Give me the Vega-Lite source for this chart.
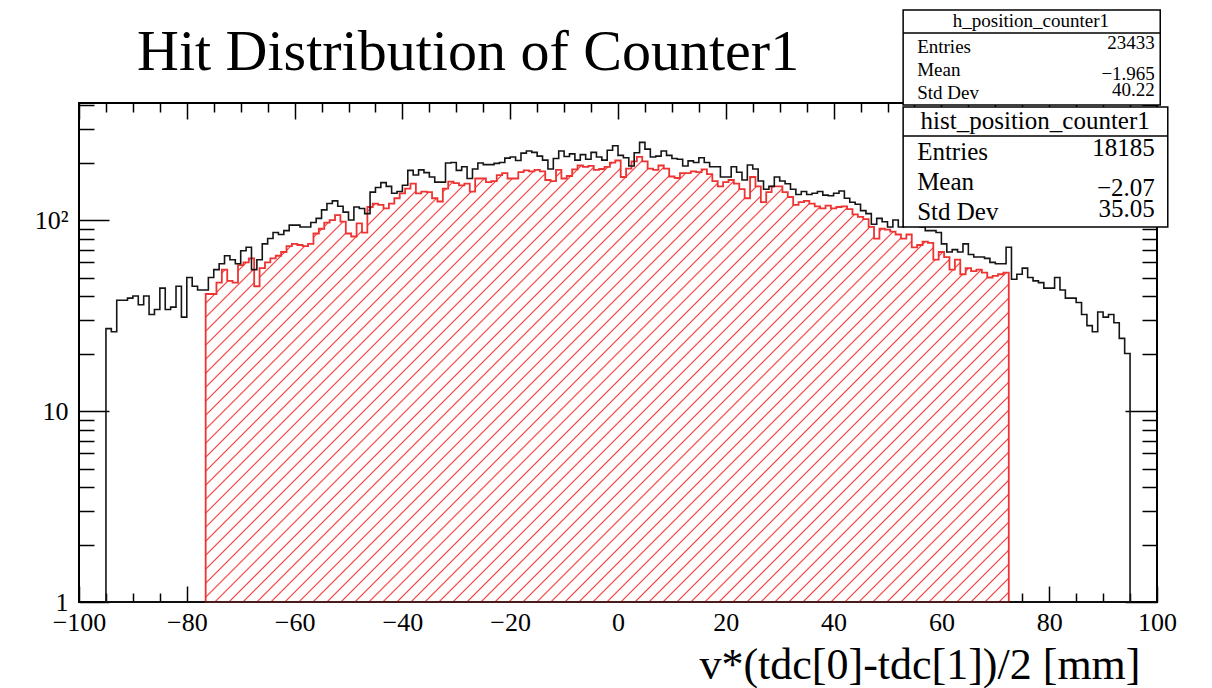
{
"$schema": "https://vega.github.io/schema/vega-lite/v6.json",
"width": 1078, "height": 499,
"autosize": {"type": "none"},
"padding": {"left": 79, "top": 103, "right": 55, "bottom": 86},
"background": "white",
"config": {"view": {"stroke": "black", "strokeWidth": 2}, "font": "Liberation Serif"},
"data": {"values": [{}]},
"datasets": {
"black": [{"x":-95,"n":27},{"x":-94,"n":26},{"x":-93,"n":38},{"x":-92,"n":38},{"x":-91,"n":39},{"x":-90,"n":40},{"x":-89,"n":36},{"x":-88,"n":40},{"x":-87,"n":32},{"x":-86,"n":34},{"x":-85,"n":44},{"x":-84,"n":34},{"x":-83,"n":35},{"x":-82,"n":45},{"x":-81,"n":31},{"x":-80,"n":50},{"x":-79,"n":45},{"x":-78,"n":43},{"x":-77,"n":43},{"x":-76,"n":50},{"x":-75,"n":55},{"x":-74,"n":59},{"x":-73,"n":65},{"x":-72,"n":62},{"x":-71,"n":59},{"x":-70,"n":69},{"x":-69,"n":72},{"x":-68,"n":55},{"x":-67,"n":62},{"x":-66,"n":75},{"x":-65,"n":80},{"x":-64,"n":86},{"x":-63,"n":84},{"x":-62,"n":88},{"x":-61,"n":94},{"x":-60,"n":94},{"x":-59,"n":92},{"x":-58,"n":92},{"x":-57,"n":97},{"x":-56,"n":102},{"x":-55,"n":113},{"x":-54,"n":122},{"x":-53,"n":126},{"x":-52,"n":118},{"x":-51,"n":110},{"x":-50,"n":100},{"x":-49,"n":117},{"x":-48,"n":115},{"x":-47,"n":108},{"x":-46,"n":140},{"x":-45,"n":148},{"x":-44,"n":157},{"x":-43,"n":150},{"x":-42,"n":138},{"x":-41,"n":141},{"x":-40,"n":152},{"x":-39,"n":182},{"x":-38,"n":172},{"x":-37,"n":183},{"x":-36,"n":177},{"x":-35,"n":168},{"x":-34,"n":158},{"x":-33,"n":158},{"x":-32,"n":199},{"x":-31,"n":200},{"x":-30,"n":182},{"x":-29,"n":190},{"x":-28,"n":165},{"x":-27,"n":185},{"x":-26,"n":199},{"x":-25,"n":195},{"x":-24,"n":195},{"x":-23,"n":198},{"x":-22,"n":200},{"x":-21,"n":211},{"x":-20,"n":214},{"x":-19,"n":205},{"x":-18,"n":224},{"x":-17,"n":230},{"x":-16,"n":226},{"x":-15,"n":216},{"x":-14,"n":206},{"x":-13,"n":185},{"x":-12,"n":210},{"x":-11,"n":230},{"x":-10,"n":215},{"x":-9,"n":222},{"x":-8,"n":206},{"x":-7,"n":220},{"x":-6,"n":208},{"x":-5,"n":226},{"x":-4,"n":214},{"x":-3,"n":206},{"x":-2,"n":232},{"x":-1,"n":245},{"x":0,"n":218},{"x":1,"n":212},{"x":2,"n":192},{"x":3,"n":225},{"x":4,"n":255},{"x":5,"n":235},{"x":6,"n":214},{"x":7,"n":216},{"x":8,"n":230},{"x":9,"n":218},{"x":10,"n":210},{"x":11,"n":208},{"x":12,"n":192},{"x":13,"n":204},{"x":14,"n":200},{"x":15,"n":212},{"x":16,"n":200},{"x":17,"n":190},{"x":18,"n":190},{"x":19,"n":168},{"x":20,"n":168},{"x":21,"n":190},{"x":22,"n":178},{"x":23,"n":162},{"x":24,"n":194},{"x":25,"n":185},{"x":26,"n":160},{"x":27,"n":145},{"x":28,"n":150},{"x":29,"n":168},{"x":30,"n":160},{"x":31,"n":155},{"x":32,"n":145},{"x":33,"n":136},{"x":34,"n":141},{"x":35,"n":136},{"x":36,"n":138},{"x":37,"n":141},{"x":38,"n":135},{"x":39,"n":134},{"x":40,"n":138},{"x":41,"n":142},{"x":42,"n":130},{"x":43,"n":124},{"x":44,"n":121},{"x":45,"n":112},{"x":46,"n":108},{"x":47,"n":95},{"x":48,"n":102},{"x":49,"n":98},{"x":50,"n":92},{"x":51,"n":100},{"x":52,"n":92},{"x":53,"n":100},{"x":54,"n":94},{"x":55,"n":96},{"x":56,"n":92},{"x":57,"n":88},{"x":58,"n":88},{"x":59,"n":86},{"x":60,"n":75},{"x":61,"n":68},{"x":62,"n":70},{"x":63,"n":68},{"x":64,"n":75},{"x":65,"n":66},{"x":66,"n":64},{"x":67,"n":64},{"x":68,"n":63},{"x":69,"n":60},{"x":70,"n":59},{"x":71,"n":59},{"x":72,"n":72},{"x":73,"n":49},{"x":74,"n":52},{"x":75,"n":56},{"x":76,"n":50},{"x":77,"n":48},{"x":78,"n":47},{"x":79,"n":44},{"x":80,"n":44},{"x":81,"n":50},{"x":82,"n":43},{"x":83,"n":39},{"x":84,"n":39},{"x":85,"n":37},{"x":86,"n":32},{"x":87,"n":28},{"x":88,"n":26},{"x":89,"n":33},{"x":90,"n":31},{"x":91,"n":32},{"x":92,"n":29},{"x":93,"n":24},{"x":94,"n":20},{"x":95,"n":20}],
"red": [{"x":-76.5,"n":41},{"x":-75.5,"n":41},{"x":-74.5,"n":47},{"x":-73.5,"n":55},{"x":-72.5,"n":48},{"x":-71.5,"n":47},{"x":-70.5,"n":58},{"x":-69.5,"n":60},{"x":-68.5,"n":63},{"x":-67.5,"n":45},{"x":-66.5,"n":56},{"x":-65.5,"n":60},{"x":-64.5,"n":63},{"x":-63.5,"n":65},{"x":-62.5,"n":68},{"x":-61.5,"n":73},{"x":-60.5,"n":75},{"x":-59.5,"n":74},{"x":-58.5,"n":73},{"x":-57.5,"n":75},{"x":-56.5,"n":85},{"x":-55.5,"n":90},{"x":-54.5,"n":97},{"x":-53.5,"n":100},{"x":-52.5,"n":106},{"x":-51.5,"n":98},{"x":-50.5,"n":85},{"x":-49.5,"n":82},{"x":-48.5,"n":96},{"x":-47.5,"n":86},{"x":-46.5,"n":117},{"x":-45.5,"n":122},{"x":-44.5,"n":120},{"x":-43.5,"n":115},{"x":-42.5,"n":122},{"x":-41.5,"n":130},{"x":-40.5,"n":138},{"x":-39.5,"n":146},{"x":-38.5,"n":155},{"x":-37.5,"n":138},{"x":-36.5,"n":141},{"x":-35.5,"n":140},{"x":-34.5,"n":130},{"x":-33.5,"n":125},{"x":-32.5,"n":146},{"x":-31.5,"n":159},{"x":-30.5,"n":156},{"x":-29.5,"n":152},{"x":-28.5,"n":155},{"x":-27.5,"n":141},{"x":-26.5,"n":165},{"x":-25.5,"n":165},{"x":-24.5,"n":158},{"x":-23.5,"n":160},{"x":-22.5,"n":172},{"x":-21.5,"n":176},{"x":-20.5,"n":165},{"x":-19.5,"n":165},{"x":-18.5,"n":178},{"x":-17.5,"n":182},{"x":-16.5,"n":180},{"x":-15.5,"n":183},{"x":-14.5,"n":180},{"x":-13.5,"n":162},{"x":-12.5,"n":160},{"x":-11.5,"n":183},{"x":-10.5,"n":165},{"x":-9.5,"n":170},{"x":-8.5,"n":184},{"x":-7.5,"n":193},{"x":-6.5,"n":190},{"x":-5.5,"n":192},{"x":-4.5,"n":183},{"x":-3.5,"n":185},{"x":-2.5,"n":190},{"x":-1.5,"n":200},{"x":-0.5,"n":205},{"x":0.5,"n":168},{"x":1.5,"n":186},{"x":2.5,"n":203},{"x":3.5,"n":214},{"x":4.5,"n":203},{"x":5.5,"n":186},{"x":6.5,"n":183},{"x":7.5,"n":193},{"x":8.5,"n":186},{"x":9.5,"n":169},{"x":10.5,"n":166},{"x":11.5,"n":176},{"x":12.5,"n":176},{"x":13.5,"n":180},{"x":14.5,"n":178},{"x":15.5,"n":184},{"x":16.5,"n":174},{"x":17.5,"n":160},{"x":18.5,"n":150},{"x":19.5,"n":158},{"x":20.5,"n":162},{"x":21.5,"n":155},{"x":22.5,"n":145},{"x":23.5,"n":130},{"x":24.5,"n":168},{"x":25.5,"n":150},{"x":26.5,"n":124},{"x":27.5,"n":140},{"x":28.5,"n":150},{"x":29.5,"n":150},{"x":30.5,"n":140},{"x":31.5,"n":132},{"x":32.5,"n":120},{"x":33.5,"n":124},{"x":34.5,"n":126},{"x":35.5,"n":122},{"x":36.5,"n":118},{"x":37.5,"n":115},{"x":38.5,"n":119},{"x":39.5,"n":115},{"x":40.5,"n":117},{"x":41.5,"n":118},{"x":42.5,"n":114},{"x":43.5,"n":107},{"x":44.5,"n":104},{"x":45.5,"n":101},{"x":46.5,"n":92},{"x":47.5,"n":80},{"x":48.5,"n":90},{"x":49.5,"n":89},{"x":50.5,"n":87},{"x":51.5,"n":84},{"x":52.5,"n":80},{"x":53.5,"n":84},{"x":54.5,"n":72},{"x":55.5,"n":74},{"x":56.5,"n":77},{"x":57.5,"n":76},{"x":58.5,"n":62},{"x":59.5,"n":68},{"x":60.5,"n":64},{"x":61.5,"n":55},{"x":62.5,"n":62},{"x":63.5,"n":52},{"x":64.5,"n":56},{"x":65.5,"n":54},{"x":66.5,"n":55},{"x":67.5,"n":53},{"x":68.5,"n":50},{"x":69.5,"n":51},{"x":70.5,"n":52},{"x":71.5,"n":53},{"x":72.5,"n":53}]
},
"layer": [
{"data": {"name": "red"},
 "mark": {"type": "area", "interpolate": "step-after", "stroke": "#ee3333", "strokeWidth": 1.8, "opacity": 1, "fillOpacity": 1,
  "fill": {"gradient": "linear", "x1": 0, "y1": 0, "x2": 1.18902, "y2": 0.65893, "stops": [
{"offset":0.0038,"color":"#fff"},{"offset":0.0050,"color":"#f03c3c"},{"offset":0.0062,"color":"#fff"},
{"offset":0.0150,"color":"#fff"},{"offset":0.0162,"color":"#f03c3c"},{"offset":0.0174,"color":"#fff"},
{"offset":0.0262,"color":"#fff"},{"offset":0.0274,"color":"#f03c3c"},{"offset":0.0286,"color":"#fff"},
{"offset":0.0375,"color":"#fff"},{"offset":0.0387,"color":"#f03c3c"},{"offset":0.0399,"color":"#fff"},
{"offset":0.0487,"color":"#fff"},{"offset":0.0499,"color":"#f03c3c"},{"offset":0.0511,"color":"#fff"},
{"offset":0.0599,"color":"#fff"},{"offset":0.0611,"color":"#f03c3c"},{"offset":0.0623,"color":"#fff"},
{"offset":0.0711,"color":"#fff"},{"offset":0.0723,"color":"#f03c3c"},{"offset":0.0735,"color":"#fff"},
{"offset":0.0823,"color":"#fff"},{"offset":0.0835,"color":"#f03c3c"},{"offset":0.0847,"color":"#fff"},
{"offset":0.0935,"color":"#fff"},{"offset":0.0947,"color":"#f03c3c"},{"offset":0.0959,"color":"#fff"},
{"offset":0.1048,"color":"#fff"},{"offset":0.1060,"color":"#f03c3c"},{"offset":0.1072,"color":"#fff"},
{"offset":0.1160,"color":"#fff"},{"offset":0.1172,"color":"#f03c3c"},{"offset":0.1184,"color":"#fff"},
{"offset":0.1272,"color":"#fff"},{"offset":0.1284,"color":"#f03c3c"},{"offset":0.1296,"color":"#fff"},
{"offset":0.1384,"color":"#fff"},{"offset":0.1396,"color":"#f03c3c"},{"offset":0.1408,"color":"#fff"},
{"offset":0.1496,"color":"#fff"},{"offset":0.1508,"color":"#f03c3c"},{"offset":0.1520,"color":"#fff"},
{"offset":0.1608,"color":"#fff"},{"offset":0.1620,"color":"#f03c3c"},{"offset":0.1632,"color":"#fff"},
{"offset":0.1721,"color":"#fff"},{"offset":0.1733,"color":"#f03c3c"},{"offset":0.1745,"color":"#fff"},
{"offset":0.1833,"color":"#fff"},{"offset":0.1845,"color":"#f03c3c"},{"offset":0.1857,"color":"#fff"},
{"offset":0.1945,"color":"#fff"},{"offset":0.1957,"color":"#f03c3c"},{"offset":0.1969,"color":"#fff"},
{"offset":0.2057,"color":"#fff"},{"offset":0.2069,"color":"#f03c3c"},{"offset":0.2081,"color":"#fff"},
{"offset":0.2169,"color":"#fff"},{"offset":0.2181,"color":"#f03c3c"},{"offset":0.2193,"color":"#fff"},
{"offset":0.2281,"color":"#fff"},{"offset":0.2293,"color":"#f03c3c"},{"offset":0.2305,"color":"#fff"},
{"offset":0.2394,"color":"#fff"},{"offset":0.2406,"color":"#f03c3c"},{"offset":0.2418,"color":"#fff"},
{"offset":0.2506,"color":"#fff"},{"offset":0.2518,"color":"#f03c3c"},{"offset":0.2530,"color":"#fff"},
{"offset":0.2618,"color":"#fff"},{"offset":0.2630,"color":"#f03c3c"},{"offset":0.2642,"color":"#fff"},
{"offset":0.2730,"color":"#fff"},{"offset":0.2742,"color":"#f03c3c"},{"offset":0.2754,"color":"#fff"},
{"offset":0.2842,"color":"#fff"},{"offset":0.2854,"color":"#f03c3c"},{"offset":0.2866,"color":"#fff"},
{"offset":0.2954,"color":"#fff"},{"offset":0.2966,"color":"#f03c3c"},{"offset":0.2978,"color":"#fff"},
{"offset":0.3067,"color":"#fff"},{"offset":0.3079,"color":"#f03c3c"},{"offset":0.3091,"color":"#fff"},
{"offset":0.3179,"color":"#fff"},{"offset":0.3191,"color":"#f03c3c"},{"offset":0.3203,"color":"#fff"},
{"offset":0.3291,"color":"#fff"},{"offset":0.3303,"color":"#f03c3c"},{"offset":0.3315,"color":"#fff"},
{"offset":0.3403,"color":"#fff"},{"offset":0.3415,"color":"#f03c3c"},{"offset":0.3427,"color":"#fff"},
{"offset":0.3515,"color":"#fff"},{"offset":0.3527,"color":"#f03c3c"},{"offset":0.3539,"color":"#fff"},
{"offset":0.3627,"color":"#fff"},{"offset":0.3639,"color":"#f03c3c"},{"offset":0.3651,"color":"#fff"},
{"offset":0.3740,"color":"#fff"},{"offset":0.3752,"color":"#f03c3c"},{"offset":0.3764,"color":"#fff"},
{"offset":0.3852,"color":"#fff"},{"offset":0.3864,"color":"#f03c3c"},{"offset":0.3876,"color":"#fff"},
{"offset":0.3964,"color":"#fff"},{"offset":0.3976,"color":"#f03c3c"},{"offset":0.3988,"color":"#fff"},
{"offset":0.4076,"color":"#fff"},{"offset":0.4088,"color":"#f03c3c"},{"offset":0.4100,"color":"#fff"},
{"offset":0.4188,"color":"#fff"},{"offset":0.4200,"color":"#f03c3c"},{"offset":0.4212,"color":"#fff"},
{"offset":0.4300,"color":"#fff"},{"offset":0.4312,"color":"#f03c3c"},{"offset":0.4324,"color":"#fff"},
{"offset":0.4413,"color":"#fff"},{"offset":0.4425,"color":"#f03c3c"},{"offset":0.4437,"color":"#fff"},
{"offset":0.4525,"color":"#fff"},{"offset":0.4537,"color":"#f03c3c"},{"offset":0.4549,"color":"#fff"},
{"offset":0.4637,"color":"#fff"},{"offset":0.4649,"color":"#f03c3c"},{"offset":0.4661,"color":"#fff"},
{"offset":0.4749,"color":"#fff"},{"offset":0.4761,"color":"#f03c3c"},{"offset":0.4773,"color":"#fff"},
{"offset":0.4861,"color":"#fff"},{"offset":0.4873,"color":"#f03c3c"},{"offset":0.4885,"color":"#fff"},
{"offset":0.4973,"color":"#fff"},{"offset":0.4985,"color":"#f03c3c"},{"offset":0.4997,"color":"#fff"},
{"offset":0.5086,"color":"#fff"},{"offset":0.5098,"color":"#f03c3c"},{"offset":0.5110,"color":"#fff"},
{"offset":0.5198,"color":"#fff"},{"offset":0.5210,"color":"#f03c3c"},{"offset":0.5222,"color":"#fff"},
{"offset":0.5310,"color":"#fff"},{"offset":0.5322,"color":"#f03c3c"},{"offset":0.5334,"color":"#fff"},
{"offset":0.5422,"color":"#fff"},{"offset":0.5434,"color":"#f03c3c"},{"offset":0.5446,"color":"#fff"},
{"offset":0.5534,"color":"#fff"},{"offset":0.5546,"color":"#f03c3c"},{"offset":0.5558,"color":"#fff"},
{"offset":0.5647,"color":"#fff"},{"offset":0.5659,"color":"#f03c3c"},{"offset":0.5671,"color":"#fff"},
{"offset":0.5759,"color":"#fff"},{"offset":0.5771,"color":"#f03c3c"},{"offset":0.5783,"color":"#fff"},
{"offset":0.5871,"color":"#fff"},{"offset":0.5883,"color":"#f03c3c"},{"offset":0.5895,"color":"#fff"},
{"offset":0.5983,"color":"#fff"},{"offset":0.5995,"color":"#f03c3c"},{"offset":0.6007,"color":"#fff"},
{"offset":0.6095,"color":"#fff"},{"offset":0.6107,"color":"#f03c3c"},{"offset":0.6119,"color":"#fff"},
{"offset":0.6207,"color":"#fff"},{"offset":0.6219,"color":"#f03c3c"},{"offset":0.6231,"color":"#fff"},
{"offset":0.6319,"color":"#fff"},{"offset":0.6331,"color":"#f03c3c"},{"offset":0.6343,"color":"#fff"},
{"offset":0.6432,"color":"#fff"},{"offset":0.6444,"color":"#f03c3c"},{"offset":0.6456,"color":"#fff"},
{"offset":0.6544,"color":"#fff"},{"offset":0.6556,"color":"#f03c3c"},{"offset":0.6568,"color":"#fff"},
{"offset":0.6656,"color":"#fff"},{"offset":0.6668,"color":"#f03c3c"},{"offset":0.6680,"color":"#fff"},
{"offset":0.6768,"color":"#fff"},{"offset":0.6780,"color":"#f03c3c"},{"offset":0.6792,"color":"#fff"},
{"offset":0.6880,"color":"#fff"},{"offset":0.6892,"color":"#f03c3c"},{"offset":0.6904,"color":"#fff"},
{"offset":0.6993,"color":"#fff"},{"offset":0.7005,"color":"#f03c3c"},{"offset":0.7017,"color":"#fff"},
{"offset":0.7105,"color":"#fff"},{"offset":0.7117,"color":"#f03c3c"},{"offset":0.7129,"color":"#fff"},
{"offset":0.7217,"color":"#fff"},{"offset":0.7229,"color":"#f03c3c"},{"offset":0.7241,"color":"#fff"},
{"offset":0.7329,"color":"#fff"},{"offset":0.7341,"color":"#f03c3c"},{"offset":0.7353,"color":"#fff"},
{"offset":0.7441,"color":"#fff"},{"offset":0.7453,"color":"#f03c3c"},{"offset":0.7465,"color":"#fff"},
{"offset":0.7553,"color":"#fff"},{"offset":0.7565,"color":"#f03c3c"},{"offset":0.7577,"color":"#fff"},
{"offset":0.7666,"color":"#fff"},{"offset":0.7678,"color":"#f03c3c"},{"offset":0.7690,"color":"#fff"},
{"offset":0.7778,"color":"#fff"},{"offset":0.7790,"color":"#f03c3c"},{"offset":0.7802,"color":"#fff"},
{"offset":0.7890,"color":"#fff"},{"offset":0.7902,"color":"#f03c3c"},{"offset":0.7914,"color":"#fff"},
{"offset":0.8002,"color":"#fff"},{"offset":0.8014,"color":"#f03c3c"},{"offset":0.8026,"color":"#fff"},
{"offset":0.8114,"color":"#fff"},{"offset":0.8126,"color":"#f03c3c"},{"offset":0.8138,"color":"#fff"},
{"offset":0.8226,"color":"#fff"},{"offset":0.8238,"color":"#f03c3c"},{"offset":0.8250,"color":"#fff"},
{"offset":0.8339,"color":"#fff"},{"offset":0.8351,"color":"#f03c3c"},{"offset":0.8363,"color":"#fff"},
{"offset":0.8451,"color":"#fff"},{"offset":0.8463,"color":"#f03c3c"},{"offset":0.8475,"color":"#fff"},
{"offset":0.8563,"color":"#fff"},{"offset":0.8575,"color":"#f03c3c"},{"offset":0.8587,"color":"#fff"},
{"offset":0.8675,"color":"#fff"},{"offset":0.8687,"color":"#f03c3c"},{"offset":0.8699,"color":"#fff"},
{"offset":0.8787,"color":"#fff"},{"offset":0.8799,"color":"#f03c3c"},{"offset":0.8811,"color":"#fff"},
{"offset":0.8899,"color":"#fff"},{"offset":0.8911,"color":"#f03c3c"},{"offset":0.8923,"color":"#fff"},
{"offset":0.9012,"color":"#fff"},{"offset":0.9024,"color":"#f03c3c"},{"offset":0.9036,"color":"#fff"},
{"offset":0.9124,"color":"#fff"},{"offset":0.9136,"color":"#f03c3c"},{"offset":0.9148,"color":"#fff"},
{"offset":0.9236,"color":"#fff"},{"offset":0.9248,"color":"#f03c3c"},{"offset":0.9260,"color":"#fff"},
{"offset":0.9348,"color":"#fff"},{"offset":0.9360,"color":"#f03c3c"},{"offset":0.9372,"color":"#fff"},
{"offset":0.9460,"color":"#fff"},{"offset":0.9472,"color":"#f03c3c"},{"offset":0.9484,"color":"#fff"},
{"offset":0.9572,"color":"#fff"},{"offset":0.9584,"color":"#f03c3c"},{"offset":0.9596,"color":"#fff"},
{"offset":0.9685,"color":"#fff"},{"offset":0.9697,"color":"#f03c3c"},{"offset":0.9709,"color":"#fff"},
{"offset":0.9797,"color":"#fff"},{"offset":0.9809,"color":"#f03c3c"},{"offset":0.9821,"color":"#fff"},
{"offset":0.9909,"color":"#fff"},{"offset":0.9921,"color":"#f03c3c"},{"offset":0.9933,"color":"#fff"}
  ]}},
 "encoding": {
  "x": {"field": "x", "type": "quantitative", "scale": {"domain": [-100, 100], "nice": false, "zero": false},
   "axis": {"orient": "top", "values": [-100,-95,-90,-85,-80,-75,-70,-65,-60,-55,-50,-45,-40,-35,-30,-25,-20,-15,-10,-5,0,5,10,15,20,25,30,35,40,45,50,55,60,65,70,75,80,85,90,95,100], "labels": false, "domain": false, "grid": false, "title": null, "tickColor": "black", "tickWidth": 1.5, "tickSize": {"condition": {"test": "datum.value % 20 === 0", "value": -16}, "value": -9}}},
  "y": {"field": "n", "type": "quantitative", "scale": {"type": "log", "domain": [1, 410], "nice": false},
   "axis": {"orient": "right", "values": [1,2,3,4,5,6,7,8,9,10,20,30,40,50,60,70,80,90,100,200,300,400], "labels": false, "domain": false, "grid": false, "title": null, "tickColor": "black", "tickWidth": 1.5, "tickSize": {"condition": {"test": "datum.value === 1 || datum.value === 10 || datum.value === 100", "value": -32}, "value": -15}}},
  "y2": {"datum": 1}
 }},
{"data": {"name": "black"},
 "mark": {"type": "area", "interpolate": "step-after", "stroke": "#151515", "strokeWidth": 1.6, "fill": "white", "fillOpacity": 0, "opacity": 1},
 "encoding": {
  "x": {"field": "x", "type": "quantitative", "scale": {"domain": [-100, 100], "nice": false, "zero": false},
   "axis": {"orient": "bottom", "values": [-100,-95,-90,-85,-80,-75,-70,-65,-60,-55,-50,-45,-40,-35,-30,-25,-20,-15,-10,-5,0,5,10,15,20,25,30,35,40,45,50,55,60,65,70,75,80,85,90,95,100], "labelExpr": "datum.value % 20 === 0 ? datum.label : ''", "labelFlush": false, "labelOverlap": false, "labelBound": false, "labelFont": "Liberation Serif", "labelFontSize": 26, "labelColor": "black", "labelPadding": 23, "domain": false, "grid": false, "tickColor": "black", "tickWidth": 1.5, "tickSize": {"condition": {"test": "datum.value % 20 === 0", "value": -16}, "value": -9},
    "title": "v*(tdc[0]-tdc[1])/2 [mm]", "titleFont": "Liberation Serif", "titleFontSize": 44, "titleFontWeight": "normal", "titleColor": "black", "titleAnchor": "end", "titleAlign": "right", "titleBaseline": "alphabetic", "titleX": 1061, "titleY": 76}},
  "y": {"field": "n", "type": "quantitative", "scale": {"type": "log", "domain": [1, 410], "nice": false},
   "axis": {"orient": "left", "values": [1,2,3,4,5,6,7,8,9,10,20,30,40,50,60,70,80,90,100,200,300,400], "labelExpr": "datum.value === 1 ? '1' : datum.value === 10 ? '10' : datum.value === 100 ? '10²' : ''", "labelFlush": false, "labelOverlap": false, "labelBound": false, "labelFont": "Liberation Serif", "labelFontSize": 26, "labelColor": "black", "labelPadding": 41, "domain": false, "grid": false, "title": null, "tickColor": "black", "tickWidth": 1.5, "tickSize": {"condition": {"test": "datum.value === 1 || datum.value === 10 || datum.value === 100", "value": -30}, "value": -15}}},
  "y2": {"datum": 1}
 }},
{"mark": {"type": "text", "text": "Hit Distribution of Counter1", "font": "Liberation Serif", "fontSize": 58, "align": "left", "baseline": "alphabetic", "color": "black"},
 "encoding": {"x": {"datum": -89.24, "type": "quantitative", "scale": {"domain": [-100, 100], "nice": false, "zero": false}, "axis": null}, "y": {"datum": 610.5, "type": "quantitative", "scale": {"type": "log", "domain": [1, 410], "nice": false}, "axis": null}}},
{"mark": {"type": "rect", "fill": "white", "stroke": "black", "strokeWidth": 1.5},
 "encoding": {"x": {"datum": 52.9, "type": "quantitative", "scale": {"domain": [-100, 100], "nice": false, "zero": false}, "axis": null}, "x2": {"datum": 100.6}, "y": {"datum": 1258.6, "type": "quantitative", "scale": {"type": "log", "domain": [1, 410], "nice": false}, "axis": null}, "y2": {"datum": 400.4}}},
{"mark": {"type": "rule", "stroke": "black", "strokeWidth": 1.5},
 "encoding": {"x": {"datum": 52.9, "type": "quantitative", "scale": {"domain": [-100, 100], "nice": false, "zero": false}, "axis": null}, "x2": {"datum": 100.6}, "y": {"datum": 953.7, "type": "quantitative", "scale": {"type": "log", "domain": [1, 410], "nice": false}, "axis": null}}},
{"mark": {"type": "text", "text": "h_position_counter1", "font": "Liberation Serif", "fontSize": 19, "align": "center", "baseline": "middle", "color": "black"},
 "encoding": {"x": {"datum": 76.6, "type": "quantitative", "scale": {"domain": [-100, 100], "nice": false, "zero": false}, "axis": null}, "y": {"datum": 1102, "type": "quantitative", "scale": {"type": "log", "domain": [1, 410], "nice": false}, "axis": null}}},
{"mark": {"type": "text", "text": ["Entries", "Mean", "Std Dev"], "lineHeight": 23, "font": "Liberation Serif", "fontSize": 19, "align": "left", "baseline": "middle", "color": "black"},
 "encoding": {"x": {"datum": 55.5, "type": "quantitative", "scale": {"domain": [-100, 100], "nice": false, "zero": false}, "axis": null}, "y": {"datum": 805.6, "type": "quantitative", "scale": {"type": "log", "domain": [1, 410], "nice": false}, "axis": null}}},
{"mark": {"type": "text", "text": "23433", "font": "Liberation Serif", "fontSize": 19, "align": "right", "baseline": "middle", "color": "black"},
 "encoding": {"x": {"datum": 99.6, "type": "quantitative", "scale": {"domain": [-100, 100], "nice": false, "zero": false}, "axis": null}, "y": {"datum": 845, "type": "quantitative", "scale": {"type": "log", "domain": [1, 410], "nice": false}, "axis": null}}},
{"mark": {"type": "text", "text": "−1.965", "font": "Liberation Serif", "fontSize": 19, "align": "right", "baseline": "middle", "color": "black"},
 "encoding": {"x": {"datum": 99.6, "type": "quantitative", "scale": {"domain": [-100, 100], "nice": false, "zero": false}, "axis": null}, "y": {"datum": 582, "type": "quantitative", "scale": {"type": "log", "domain": [1, 410], "nice": false}, "axis": null}}},
{"mark": {"type": "text", "text": "40.22", "font": "Liberation Serif", "fontSize": 19, "align": "right", "baseline": "middle", "color": "black"},
 "encoding": {"x": {"datum": 99.6, "type": "quantitative", "scale": {"domain": [-100, 100], "nice": false, "zero": false}, "axis": null}, "y": {"datum": 480, "type": "quantitative", "scale": {"type": "log", "domain": [1, 410], "nice": false}, "axis": null}}},
{"mark": {"type": "rect", "fill": "white", "stroke": "black", "strokeWidth": 1.5},
 "encoding": {"x": {"datum": 52.9, "type": "quantitative", "scale": {"domain": [-100, 100], "nice": false, "zero": false}, "axis": null}, "x2": {"datum": 102.0}, "y": {"datum": 390.8, "type": "quantitative", "scale": {"type": "log", "domain": [1, 410], "nice": false}, "axis": null}, "y2": {"datum": 91.95}}},
{"mark": {"type": "rule", "stroke": "black", "strokeWidth": 1.5},
 "encoding": {"x": {"datum": 52.9, "type": "quantitative", "scale": {"domain": [-100, 100], "nice": false, "zero": false}, "axis": null}, "x2": {"datum": 102.0}, "y": {"datum": 275.4, "type": "quantitative", "scale": {"type": "log", "domain": [1, 410], "nice": false}, "axis": null}}},
{"mark": {"type": "text", "text": "hist_position_counter1", "font": "Liberation Serif", "fontSize": 25, "align": "center", "baseline": "middle", "color": "black"},
 "encoding": {"x": {"datum": 77.4, "type": "quantitative", "scale": {"domain": [-100, 100], "nice": false, "zero": false}, "axis": null}, "y": {"datum": 330, "type": "quantitative", "scale": {"type": "log", "domain": [1, 410], "nice": false}, "axis": null}}},
{"mark": {"type": "text", "text": ["Entries", "Mean", "Std Dev"], "lineHeight": 30, "font": "Liberation Serif", "fontSize": 25, "align": "left", "baseline": "middle", "color": "black"},
 "encoding": {"x": {"datum": 55.5, "type": "quantitative", "scale": {"domain": [-100, 100], "nice": false, "zero": false}, "axis": null}, "y": {"datum": 227.2, "type": "quantitative", "scale": {"type": "log", "domain": [1, 410], "nice": false}, "axis": null}}},
{"mark": {"type": "text", "text": "18185", "font": "Liberation Serif", "fontSize": 25, "align": "right", "baseline": "middle", "color": "black"},
 "encoding": {"x": {"datum": 99.6, "type": "quantitative", "scale": {"domain": [-100, 100], "nice": false, "zero": false}, "axis": null}, "y": {"datum": 238.4, "type": "quantitative", "scale": {"type": "log", "domain": [1, 410], "nice": false}, "axis": null}}},
{"mark": {"type": "text", "text": "−2.07", "font": "Liberation Serif", "fontSize": 25, "align": "right", "baseline": "middle", "color": "black"},
 "encoding": {"x": {"datum": 99.6, "type": "quantitative", "scale": {"domain": [-100, 100], "nice": false, "zero": false}, "axis": null}, "y": {"datum": 147.2, "type": "quantitative", "scale": {"type": "log", "domain": [1, 410], "nice": false}, "axis": null}}},
{"mark": {"type": "text", "text": "35.05", "font": "Liberation Serif", "fontSize": 25, "align": "right", "baseline": "middle", "color": "black"},
 "encoding": {"x": {"datum": 99.6, "type": "quantitative", "scale": {"domain": [-100, 100], "nice": false, "zero": false}, "axis": null}, "y": {"datum": 114.3, "type": "quantitative", "scale": {"type": "log", "domain": [1, 410], "nice": false}, "axis": null}}}
],
"resolve": {"axis": {"x": "independent", "y": "independent"}}
}
